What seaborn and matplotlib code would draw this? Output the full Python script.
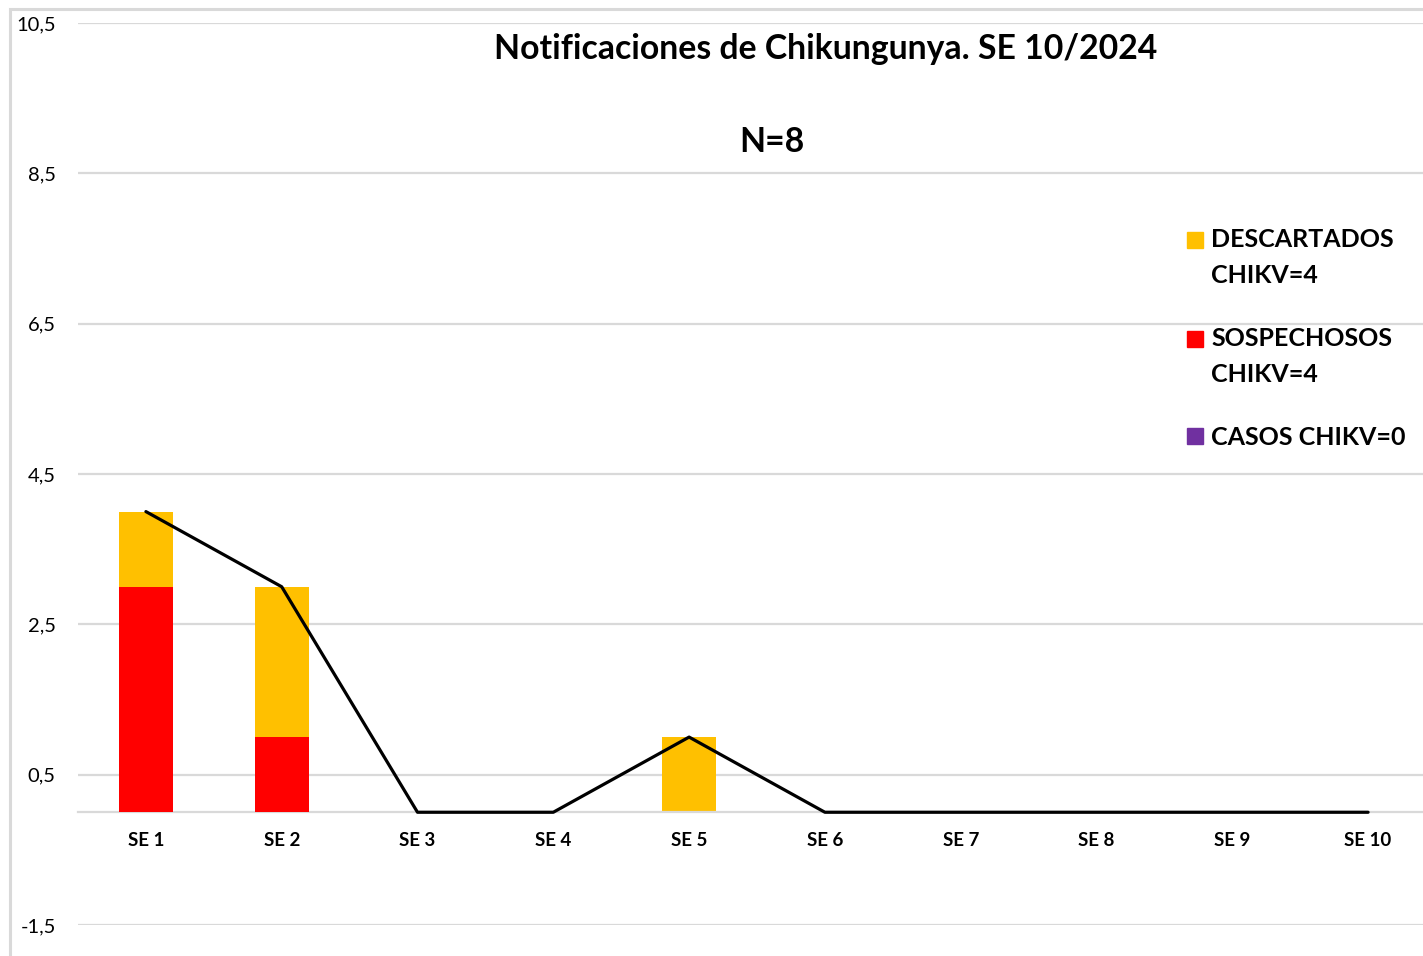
import numpy as np
import pandas as pd
import matplotlib
matplotlib.use('Agg')
import matplotlib.pyplot as plt
import seaborn as sns
from matplotlib.patches import Rectangle
from matplotlib.legend_handler import HandlerPatch
from matplotlib.ticker import FixedLocator, FuncFormatter

semanas = ['SE 1', 'SE 2', 'SE 3', 'SE 4', 'SE 5', 'SE 6', 'SE 7', 'SE 8', 'SE 9', 'SE 10']
sospechosos = [3, 1, 0, 0, 0, 0, 0, 0, 0, 0]
descartados = [1, 2, 0, 0, 1, 0, 0, 0, 0, 0]
casos = [0, 0, 0, 0, 0, 0, 0, 0, 0, 0]
yticks = [-1.5, 0.5, 2.5, 4.5, 6.5, 8.5, 10.5]

c_desc = '#ffc000'
c_sosp = '#ff0000'
c_casos = '#7030a0'
grid_c = '#d9d9d9'

df = pd.DataFrame({'semana': semanas, 'sosp': sospechosos, 'desc': descartados, 'casos': casos})
df['total'] = df['sosp'] + df['desc'] + df['casos']

sns.set_style('white')
plt.rcParams['font.family'] = ['Lato', 'DejaVu Sans']
plt.rcParams['text.color'] = 'black'

fig = plt.figure(figsize=(14.23, 9.56), dpi=100)
ax = fig.add_axes([78 / 1423, 1 - 925 / 956, (1436 - 78) / 1423, (925 - 23) / 956])

sns.barplot(data=df, x='semana', y='total', color=c_desc, width=0.4, saturation=1, linewidth=0,
            edgecolor='none', ax=ax, zorder=2)
sns.barplot(data=df, x='semana', y='sosp', color=c_sosp, width=0.4, saturation=1, linewidth=0,
            edgecolor='none', ax=ax, zorder=3)
sns.lineplot(x=np.arange(len(semanas)), y=df['total'].values, color='black', linewidth=2.3, ax=ax, zorder=4)

ax.set_ylim(-1.5, 10.5)
ax.set_xlim(-0.5, len(semanas) - 0.5)
ax.yaxis.set_major_locator(FixedLocator(yticks))
ax.yaxis.set_major_formatter(FuncFormatter(lambda v, p: f'{v:.1f}'.replace('.', ',')))
ax.grid(axis='y', color=grid_c, linewidth=1.6, zorder=0)
ax.set_axisbelow(True)
for s in ['left', 'right', 'top']:
    ax.spines[s].set_visible(False)
ax.spines['bottom'].set_position(('data', 0))
ax.spines['bottom'].set_color(grid_c)
ax.spines['bottom'].set_linewidth(1.6)
ax.tick_params(axis='y', length=0, pad=16, labelsize=14.5, labelcolor='black')
ax.tick_params(axis='x', length=0, pad=14, labelsize=13.5, labelcolor='black')
for t in ax.get_xticklabels():
    t.set_fontweight('bold')
ax.set_xlabel('')
ax.set_ylabel('')

# marco exterior
fig.patches.append(Rectangle((10 / 1423, -0.05), 1.1, 1 - 9 / 956 + 0.05, transform=fig.transFigure,
                             fill=False, edgecolor=grid_c, linewidth=2.2, zorder=0))

fig.text(826 / 1423, 1 - 49 / 956, 'Notificaciones de Chikungunya. SE 10/2024', ha='center', va='center',
         fontsize=24.3, fontweight='bold')
fig.text(772 / 1423, 1 - 142 / 956, 'N=8', ha='center', va='center', fontsize=24.3, fontweight='bold')

# leyenda: marcador alineado con la primera linea
def patch_up(shift):
    def f(legend, orig_handle, xdescent, ydescent, width, height, fontsize):
        s = 11.5
        return Rectangle((width - s, (height - s) / 2 - ydescent + shift), s, s)
    return f

h1 = Rectangle((0, 0), 1, 1, color=c_desc)
h2 = Rectangle((0, 0), 1, 1, color=c_sosp)
h3 = Rectangle((0, 0), 1, 1, color=c_casos)
leg = ax.legend([h1, h2, h3], ['DESCARTADOS\nCHIKV=4', 'SOSPECHOSOS\nCHIKV=4', 'CASOS CHIKV=0'],
                handler_map={h1: HandlerPatch(patch_func=patch_up(13)),
                             h2: HandlerPatch(patch_func=patch_up(13)),
                             h3: HandlerPatch(patch_func=patch_up(0))},
                loc='upper left', bbox_to_anchor=(1170 / 1423, 1 - 216 / 956), bbox_transform=fig.transFigure,
                frameon=False, prop={'weight': 'bold', 'size': 18}, handlelength=0.8, handletextpad=0.35,
                labelspacing=1.62, borderpad=0)
for t in leg.get_texts():
    t.set_linespacing(1.65)

fig.savefig('out.png', dpi=100)
